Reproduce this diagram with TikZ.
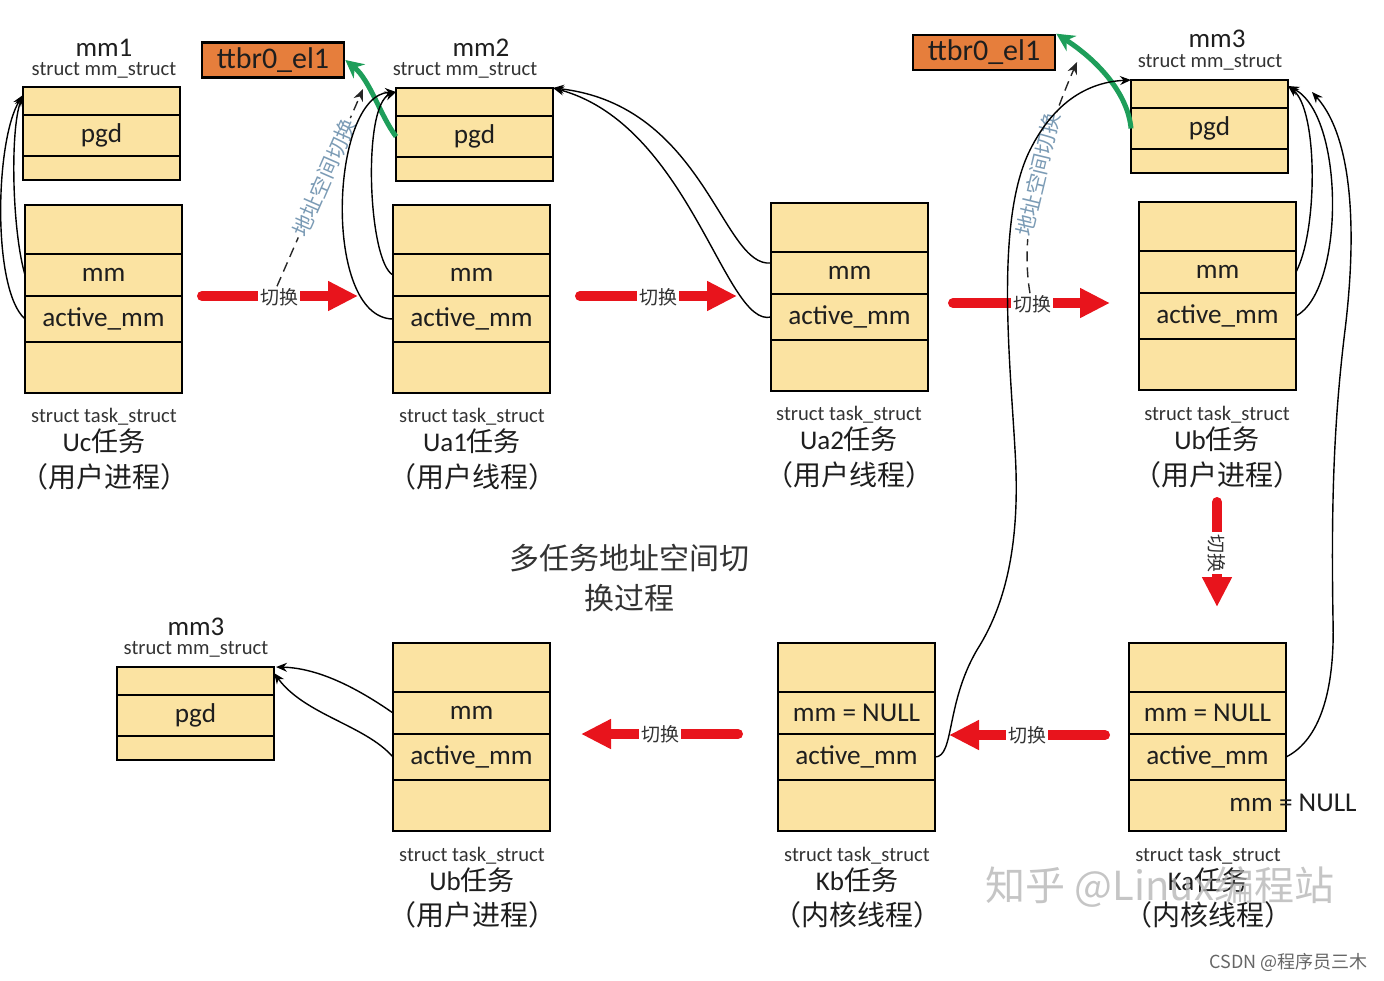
\documentclass[tikz,border=0pt]{standalone}
\usepackage{fontspec}
\setmainfont{Carlito}
\newfontfamily\cjk{Noto Sans CJK SC}
\usetikzlibrary{arrows.meta}
\definecolor{boxfill}{HTML}{FBE3A2}
\definecolor{ttfill}{HTML}{E67E3C}
\definecolor{redc}{HTML}{E8141C}
\definecolor{greenc}{HTML}{1E9E5A}
\definecolor{dlabel}{HTML}{7B9BB5}
\definecolor{txt}{HTML}{1E1E1E}
\definecolor{lbl}{HTML}{333333}
\newcommand\setfs[1]{\fontsize{#1}{#1}\selectfont}
\newcommand\taskbox[5]{%
  \node[cell, minimum height=24.5pt] (#1-a) at (#2,#3) {};
  \node[cell, minimum height=21pt] (#1-mm) at (#1-a.south west) {#4};
  \node[cell, minimum height=23pt] (#1-act) at (#1-mm.south west) {#5};
  \node[cell, minimum height=25.5pt] (#1-b) at (#1-act.south west) {};
}
\newcommand\mmbox[3]{%
  \node[cell, minimum height=14pt] (#1-a) at (#2,#3) {};
  \node[cell, minimum height=20.5pt] (#1-pgd) at (#1-a.south west) {pgd};
  \node[cell, minimum height=12pt] (#1-b) at (#1-pgd.south west) {};
}
\begin{document}
\begin{tikzpicture}[x=0.5pt,y=-0.5pt,
  cell/.style={draw=black, fill=boxfill, line width=1.3pt, minimum width=78.5pt,
    inner sep=0pt, outer sep=0pt, anchor=north west, text=txt, font=\setfs{13.6pt}},
  ttbox/.style={draw=black, fill=ttfill, line width=1.3pt, minimum width=71pt,
    minimum height=17.5pt, inner sep=0pt, text=txt, font=\setfs{15pt}},
  structlbl/.style={text=lbl, font=\setfs{10.3pt}, inner sep=0pt},
  namelbl/.style={text=txt, font=\setfs{13.5pt}, inner sep=0pt},
  kindlbl/.style={text=txt, font=\cjk\setfs{14pt}, inner sep=0pt},
  ptr/.style={draw=black, line width=0.7pt, -{Stealth[length=5.5pt,width=4.5pt]}},
  redarrow/.style={draw=redc, line width=5pt, line cap=round, -{Triangle[length=15pt,width=14pt]}},
  qh/.style={fill=white, inner sep=0.8pt, text=lbl, font=\cjk\setfs{9.5pt}},
  greenarrow/.style={draw=greenc, line width=2.5pt, -{Stealth[length=9pt,width=9pt]}},
  dashptr/.style={draw=black!85, line width=0.7pt, dash pattern=on 5pt off 3pt,
    -{Stealth[length=6pt,width=5pt]}},
  dl/.style={fill=white, inner sep=1pt, text=dlabel, font=\cjk\setfs{10.5pt}},
]
\useasboundingbox (0,0) rectangle (1384,980);

% ---- top row boxes ----
\mmbox{mm1}{23}{87}
\taskbox{uc}{25}{205}{mm}{active\_mm}
\node[ttbox] (ttbr1) at (273,60) {ttbr0\_el1};
\mmbox{mm2}{396}{88}
\taskbox{ua1}{393}{205}{mm}{active\_mm}
\taskbox{ua2}{771}{203}{mm}{active\_mm}
\node[ttbox] (ttbr2) at (984,52.5) {ttbr0\_el1};
\mmbox{mm3t}{1131}{80}
\taskbox{ub}{1139}{202}{mm}{active\_mm}

% ---- bottom row boxes ----
\taskbox{ka}{1129}{643}{mm = NULL}{active\_mm}
\node[text=txt, font=\setfs{13.6pt}, inner sep=0pt] (ka-note) at (1293,803) {mm = NULL};
\taskbox{kb}{778}{643}{mm = NULL}{active\_mm}
\taskbox{ubb}{393}{643}{mm}{active\_mm}
\mmbox{mm3b}{117}{667}

% ---- mm_struct labels ----
\node[namelbl] (mm1-n) at (104,48) {mm1};
\node[structlbl] (mm1-s) at (104,70) {struct mm\_struct};
\node[namelbl] (mm2-n) at (481,48) {mm2};
\node[structlbl] (mm2-s) at (465,70) {struct mm\_struct};
\node[namelbl] (mm3t-n) at (1217,39) {mm3};
\node[structlbl] (mm3t-s) at (1210,62) {struct mm\_struct};
\node[namelbl] (mm3b-n) at (196,627) {mm3};
\node[structlbl] (mm3b-s) at (196,649) {struct mm\_struct};

% ---- task labels ----
\node[structlbl] (uc-s) at (104,417) {struct task\_struct};
\node[namelbl] (uc-n) at (104,441) {Uc{\cjk 任务}};
\node[kindlbl] (uc-k) at (104,477) {（用户进程）};
\node[structlbl] (ua1-s) at (472,417) {struct task\_struct};
\node[namelbl] (ua1-n) at (472,441) {Ua1{\cjk 任务}};
\node[kindlbl] (ua1-k) at (472,477) {（用户线程）};
\node[structlbl] (ua2-s) at (849,415) {struct task\_struct};
\node[namelbl] (ua2-n) at (849,439) {Ua2{\cjk 任务}};
\node[kindlbl] (ua2-k) at (849,475) {（用户线程）};
\node[structlbl] (ub-s) at (1217,415) {struct task\_struct};
\node[namelbl] (ub-n) at (1217,439) {Ub{\cjk 任务}};
\node[kindlbl] (ub-k) at (1217,475) {（用户进程）};
\node[structlbl] (ubb-s) at (472,856) {struct task\_struct};
\node[namelbl] (ubb-n) at (472,880) {Ub{\cjk 任务}};
\node[kindlbl] (ubb-k) at (472,915) {（用户进程）};
\node[structlbl] (kb-s) at (857,856) {struct task\_struct};
\node[namelbl] (kb-n) at (857,880) {Kb{\cjk 任务}};
\node[kindlbl] (kb-k) at (857,915) {（内核线程）};
\node[structlbl] (ka-s) at (1208,856) {struct task\_struct};
\node[namelbl] (ka-n) at (1208,880) {Ka{\cjk 任务}};
\node[kindlbl] (ka-k) at (1208,915) {（内核线程）};

% ---- title ----
\node[text=lbl, font=\cjk\fontsize{15pt}{20pt}\selectfont, align=center] (title) at (629,578) {多任务地址空间切\\换过程};

% ---- red switch arrows ----
\coordinate (r1s) at (202,296); \coordinate (r1e) at (358,296);
\draw[redarrow] (r1s) -- (r1e);
\node[qh] (qh1) at (279,297) {切换};
\coordinate (r2s) at (580,296); \coordinate (r2e) at (737,296);
\draw[redarrow] (r2s) -- (r2e);
\node[qh] (qh2) at (658,297) {切换};
\coordinate (r3s) at (953,303); \coordinate (r3e) at (1110,303);
\draw[redarrow] (r3s) -- (r3e);
\node[qh] (qh3) at (1032,304) {切换};
\coordinate (r4s) at (1217,502); \coordinate (r4e) at (1217,607);
\draw[redarrow] (r4s) -- (r4e);
\node[qh, rotate=-90] (qh4) at (1217,553) {切换};
\coordinate (r5s) at (1105,735); \coordinate (r5e) at (949,735);
\draw[redarrow] (r5s) -- (r5e);
\node[qh] (qh5) at (1027,735) {切换};
\coordinate (r6s) at (738,734); \coordinate (r6e) at (581,734);
\draw[redarrow] (r6s) -- (r6e);
\node[qh] (qh6) at (660,734) {切换};

% ---- dashed address-space switch arrows ----
\coordinate (d1tip) at (363,89);
\draw[dashptr] ([xshift=-1pt]qh1.north) -- node[dl, sloped, pos=0.55] (dl1) {地址空间切换} (d1tip);
\coordinate (d2tip) at (1077,62);
\draw[dashptr] ([xshift=-1pt]qh3.north) .. controls (1018,225) and (1045,135) .. node[dl, sloped, pos=0.52] (dl2) {地址空间切换} (d2tip);

% ---- green pgd -> ttbr0_el1 ----
\draw[greenarrow] (mm2-pgd.west) .. controls (380,115) and (370,80) .. (ttbr1.east);
\draw[greenarrow] (mm3t-pgd.west) .. controls (1128,95) and (1100,62) .. (ttbr2.north east);

% ---- pointers ----
\draw[ptr] (uc-mm.west) .. controls (12,230) and (10,130) .. ([yshift=-4pt]mm1-a.north west);
\draw[ptr] (uc-act.west) .. controls (-8,290) and (-5,140) .. ([yshift=-4pt]mm1-a.north west);
\draw[ptr] (ua1-mm.west) .. controls (368,262) and (362,105) .. ([yshift=-2pt]mm2-a.north west);
\draw[ptr] (ua1-act.west) .. controls (322,318) and (330,95) .. ([yshift=-2pt]mm2-a.north west);
\draw[ptr] ([yshift=5pt]ua2-mm.west) .. controls (722,268) and (705,105) .. (mm2-a.north east);
\draw[ptr] (ua2-act.west) .. controls (725,328) and (690,125) .. (mm2-a.north east);
\draw[ptr] (ub-mm.east) .. controls (1318,230) and (1318,110) .. ([yshift=-3pt]mm3t-a.north east);
\draw[ptr] (ub-act.east) .. controls (1345,290) and (1345,115) .. ([yshift=-3pt]mm3t-a.north east);
\draw[ptr] (ka-act.east) .. controls (1320,740) and (1335,690) .. (1333,620)
  .. controls (1331,500) and (1334,420) .. (1345,330)
  .. controls (1356,240) and (1355,140) .. ([xshift=12pt,yshift=-6pt]mm3t-a.north east);
\draw[ptr] (kb-act.east) .. controls (955,757) and (945,700) .. (980,645)
  .. controls (1010,595) and (1020,530) .. (1015,450)
  .. controls (1010,360) and (995,220) .. (1030,150)
  .. controls (1055,100) and (1090,82) .. (mm3t-a.north west);
\draw[ptr] (ubb-mm.west) .. controls (360,690) and (320,668) .. ([xshift=1pt]mm3b-a.north east);
\draw[ptr] (ubb-act.west) .. controls (365,725) and (305,715) .. ([yshift=-3pt]mm3b-a.north east);

% ---- watermarks ----
\node[text=black!30, opacity=0.75, font=\cjk\setfs{20pt}] (wm) at (1160,887) {知乎 @Linux编程站};
\node[text=black!60, anchor=east, font=\cjk\setfs{9pt}, inner sep=0pt] (csdn) at (1368,962) {CSDN @程序员三木};
\end{tikzpicture}
\end{document}
